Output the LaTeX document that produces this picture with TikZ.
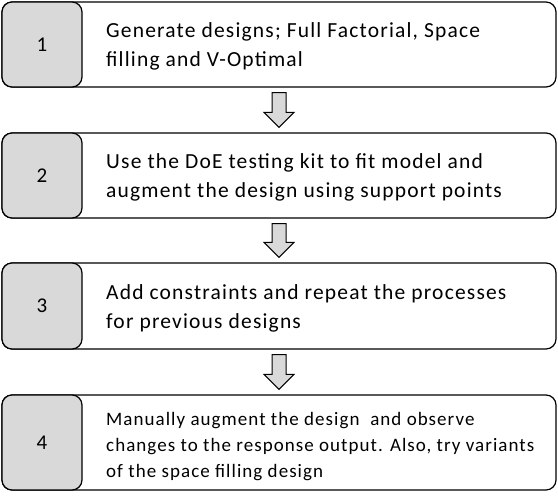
\documentclass[tikz,border=0pt]{standalone}
\usepackage{fontspec}
\setmainfont{Carlito}
\usetikzlibrary{calc}
\begin{document}
\begin{tikzpicture}[x=1pt,y=-1pt,
  outerbox/.style={draw=black, line width=1.2pt, rounded corners=10pt, fill=white, rectangle, inner sep=0pt, minimum width=554pt},
  numbox/.style={draw=black, line width=1.2pt, rounded corners=10pt, fill=black!15, rectangle, inner sep=0pt, minimum width=80pt, font=\fontsize{21}{24}\selectfont\addfontfeature{LetterSpace=5}},
  txt/.style={anchor=base west, align=left, inner sep=0pt, font=\fontsize{21.5}{29}\selectfont\addfontfeature{LetterSpace=5.5}},
  txtsmall/.style={anchor=base west, align=left, inner sep=0pt, font=\fontsize{19}{26}\selectfont\addfontfeature{LetterSpace=5.5}},
  blockarrow/.style={draw=black, line width=1pt, fill=black!15, line join=miter}]
\useasboundingbox (0,0) rectangle (558,497);
\fill[white] (0,0) rectangle (558,497);
% boxes
\node[outerbox, minimum height=85pt] (b1) at (279,44.5) {};
\node[numbox, minimum height=85pt] (n1) at (42,44.5) {1};
\node[txt] (t1) at (106,67) {Generate designs; Full Factorial, Space\\filling and V-Optimal};
\node[outerbox, minimum height=85pt] (b2) at (279,175.5) {};
\node[numbox, minimum height=85pt] (n2) at (42,175.5) {2};
\node[txt] (t2) at (106,198) {Use the DoE testing kit to fit model and\\augment the design using support points};
\node[outerbox, minimum height=86pt] (b3) at (279,306) {};
\node[numbox, minimum height=86pt] (n3) at (42,306) {3};
\node[txt] (t3) at (106,329) {Add constraints and repeat the processes\\for previous designs};
\node[outerbox, minimum height=95pt] (b4) at (279,442.5) {};
\node[numbox, minimum height=95pt] (n4) at (42,442.5) {4};
\node[txtsmall] (t4) at (106,478) {Manually augment the design~ and observe\\changes to the response output. Also, try variants\\of the space filling design};
% block arrows
\foreach \a/\b in {b1/b2, b2/b3, b3/b4}{
  \draw[blockarrow] ($(\a.south)+(-7,5)$) -- ($(\b.north)+(-7,-20)$) -- ($(\b.north)+(-15,-20)$) -- ($(\b.north)+(0,-5)$) -- ($(\b.north)+(15,-20)$) -- ($(\b.north)+(7,-20)$) -- ($(\a.south)+(7,5)$) -- cycle;
}
\end{tikzpicture}
\end{document}
